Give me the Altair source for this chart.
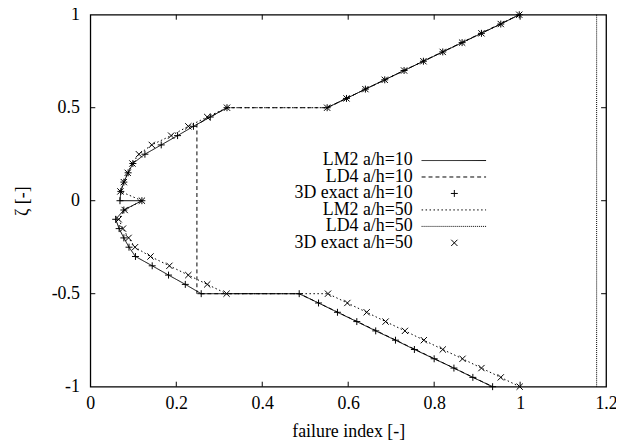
import altair as alt
import pandas as pd

# ---------------- data ----------------
# top layer (zeta 0.5 -> 1), both a/h coincide
zeta_top = [0.5, 0.55, 0.6, 0.65, 0.7, 0.75, 0.8, 0.85, 0.9, 0.95, 1.0]
fi_top = [0.551, 0.596, 0.640, 0.685, 0.730, 0.775, 0.820, 0.865, 0.910, 0.955, 0.998]

# bottom layer (zeta -0.5 -> -1)
zeta_bot = [-0.5, -0.55, -0.6, -0.65, -0.7, -0.75, -0.8, -0.85, -0.9, -0.95, -1.0]
fi_bot_10 = [0.486, 0.531, 0.575, 0.620, 0.664, 0.710, 0.754, 0.800, 0.846, 0.890, 0.936]
fi_bot_50 = [0.553, 0.598, 0.643, 0.687, 0.732, 0.776, 0.820, 0.866, 0.910, 0.955, 0.999]

# middle layer (zeta 0.5 -> -0.5)
zeta_mid_10 = [0.5, 0.45, 0.4, 0.35, 0.3, 0.25, 0.2, 0.15, 0.1, 0.05, 0.0, 0.0,
               -0.05, -0.1, -0.15, -0.2, -0.25, -0.3, -0.35, -0.4, -0.45, -0.5]
fi_mid_10 = [0.318, 0.279, 0.240, 0.203, 0.165, 0.127, 0.099, 0.088, 0.078, 0.071, 0.069, 0.120,
             0.078, 0.059, 0.067, 0.078, 0.090, 0.105, 0.144, 0.182, 0.221, 0.258]
zeta_mid_50 = [0.5, 0.45, 0.4, 0.35, 0.3, 0.25, 0.2, 0.15, 0.1, 0.05, 0.0,
               -0.05, -0.1, -0.15, -0.2, -0.25, -0.3, -0.35, -0.4, -0.45, -0.5]
fi_mid_50 = [0.318, 0.272, 0.228, 0.188, 0.143, 0.113, 0.098, 0.087, 0.078, 0.070, 0.120,
             0.080, 0.066, 0.076, 0.089, 0.104, 0.140, 0.184, 0.228, 0.272, 0.317]

# LD4 curves (visible parts)
ld4_10_zeta = [1.0, 0.5, 0.5, 0.45, 0.41, -0.5, -0.5, -1.0]
ld4_10_fi = [0.998, 0.551, 0.318, 0.279, 0.248, 0.248, 0.486, 0.936]
ld4_50_zeta = [-1.0, 1.0]
ld4_50_fi = [1.178, 1.178]

series_names = ["LM2 a/h=10", "LD4 a/h=10", "3D exact a/h=10",
                "LM2 a/h=50", "LD4 a/h=50", "3D exact a/h=50"]
line_names = ["LM2 a/h=10", "LD4 a/h=10", "LM2 a/h=50", "LD4 a/h=50"]
line_dashes = [[1, 0], [4, 3], [1.5, 2.5], [1, 1]]

x_ticks = [0, 0.2, 0.4, 0.6, 0.8, 1, 1.2]
y_ticks = [-1, -0.5, 0, 0.5, 1]

# ---------------- build tables ----------------
rows = []


def add(series, seg, xs, zs):
    for a, b in zip(xs, zs):
        rows.append({"series": series, "seg": series + seg, "o": len(rows), "fi": a, "zeta": b})


add("LM2 a/h=10", "A", fi_bot_10[::-1] + fi_mid_10[::-1], zeta_bot[::-1] + zeta_mid_10[::-1])
add("LM2 a/h=10", "B", fi_top, zeta_top)
add("LD4 a/h=10", "A", ld4_10_fi, ld4_10_zeta)
add("LM2 a/h=50", "A", fi_bot_50[::-1] + fi_mid_50[::-1] + fi_top,
    zeta_bot[::-1] + zeta_mid_50[::-1] + zeta_top)
add("LD4 a/h=50", "A", ld4_50_fi, ld4_50_zeta)
lines_df = pd.DataFrame(rows)

pts10 = pd.DataFrame({"fi": fi_top + fi_mid_10 + fi_bot_10,
                      "zeta": zeta_top + zeta_mid_10 + zeta_bot})
pts50 = pd.DataFrame({"fi": fi_top + fi_mid_50 + fi_bot_50,
                      "zeta": zeta_top + zeta_mid_50 + zeta_bot})

# inward mirrored ticks (gnuplot style)
tx = 5 / 433.3
ty = 5 / 187.5
tick_rows = []
for v in x_ticks[1:-1]:
    tick_rows.append({"x": v, "x2": v, "y": -1, "y2": -1 + ty})
    tick_rows.append({"x": v, "x2": v, "y": 1, "y2": 1 - ty})
for v in y_ticks[1:-1]:
    tick_rows.append({"x": 0, "x2": tx, "y": v, "y2": v})
    tick_rows.append({"x": 1.2, "x2": 1.2 - tx, "y": v, "y2": v})
ticks_df = pd.DataFrame(tick_rows)

# legend table (pixel rows inside the plot area)
leg_top, leg_step = 147, 16.6
legend_df = pd.DataFrame({"label": series_names,
                          "ly": [leg_top + leg_step * i for i in range(len(series_names))]})
LEG_TEXT_X, LEG_LINE_X1, LEG_LINE_X2, LEG_MARK_X = 325, 334, 399, 367

FONT = "Liberation Serif, Times New Roman, DejaVu Serif, serif"
FS = 18
xscale = alt.Scale(domain=[0, 1.2], nice=False, zero=False)
yscale = alt.Scale(domain=[-1, 1], nice=False, zero=False)
dash_scale = alt.Scale(domain=line_names, range=line_dashes)

X = alt.X("fi:Q", scale=xscale,
          axis=alt.Axis(values=x_ticks, labelExpr="'' + datum.value", title="failure index  [-]",
                        titleY=45, titleBaseline="middle", labelPadding=8))
Y = alt.Y("zeta:Q", scale=yscale,
          axis=alt.Axis(values=y_ticks, labelExpr="'' + datum.value", title="ζ [-]",
                        titleX=-68, titleY=187.5, titleBaseline="middle", labelPadding=11))

plus_shape = "M-1,0L1,0M0,-1L0,1"
cross_shape = "M-1,-1L1,1M-1,1L1,-1"

lines = alt.Chart(lines_df).mark_line(color="black", strokeWidth=1).encode(
    x=X, y=Y,
    strokeDash=alt.StrokeDash("series:N", scale=dash_scale, legend=None),
    detail="seg:N",
    order="o:Q",
)

m10 = alt.Chart(pts10).mark_point(shape=plus_shape, size=49, color="black",
                                  strokeWidth=1, filled=False, opacity=1).encode(
    x=alt.X("fi:Q", scale=xscale), y=alt.Y("zeta:Q", scale=yscale))
m50 = alt.Chart(pts50).mark_point(shape=cross_shape, size=40, color="black",
                                  strokeWidth=1, filled=False, opacity=1).encode(
    x=alt.X("fi:Q", scale=xscale), y=alt.Y("zeta:Q", scale=yscale))

ticks = alt.Chart(ticks_df).mark_rule(color="black", strokeWidth=1).encode(
    x=alt.X("x:Q", scale=xscale), x2="x2:Q",
    y=alt.Y("y:Q", scale=yscale), y2="y2:Q")

leg_text = alt.Chart(legend_df).mark_text(align="right", baseline="middle", font=FONT,
                                          fontSize=FS, color="black").encode(
    x=alt.value(LEG_TEXT_X), y=alt.Y("ly:Q", scale=None, axis=None), text="label:N")

leg_lines_df = legend_df[legend_df["label"].isin(line_names)].rename(columns={"label": "series"})
leg_lines = alt.Chart(leg_lines_df).mark_rule(color="black", strokeWidth=1).encode(
    x=alt.value(LEG_LINE_X1), x2=alt.value(LEG_LINE_X2),
    y=alt.Y("ly:Q", scale=None, axis=None),
    strokeDash=alt.StrokeDash("series:N", scale=dash_scale, legend=None))

leg_p10 = alt.Chart(legend_df[legend_df["label"] == "3D exact a/h=10"]).mark_point(
    shape=plus_shape, size=49, color="black", strokeWidth=1, filled=False, opacity=1).encode(
    x=alt.value(LEG_MARK_X), y=alt.Y("ly:Q", scale=None, axis=None))
leg_p50 = alt.Chart(legend_df[legend_df["label"] == "3D exact a/h=50"]).mark_point(
    shape=cross_shape, size=40, color="black", strokeWidth=1, filled=False, opacity=1).encode(
    x=alt.value(LEG_MARK_X), y=alt.Y("ly:Q", scale=None, axis=None))

chart = alt.layer(lines, m10, m50, ticks, leg_text, leg_lines, leg_p10, leg_p50).properties(
    width=520, height=375,
    background="white",
    autosize=alt.AutoSizeParams(type="none"),
    padding={"left": 83, "top": 5, "right": 10, "bottom": 55},
).configure_view(stroke="black", strokeWidth=1.3).configure_axis(
    ticks=False, domain=False, grid=False, labelFlush=False,
    labelFont=FONT, labelFontSize=FS, labelColor="black",
    titleFont=FONT, titleFontSize=FS, titleFontWeight="normal", titleColor="black",
)

chart.save("out.html", embed_options={"renderer": "svg", "actions": False})
